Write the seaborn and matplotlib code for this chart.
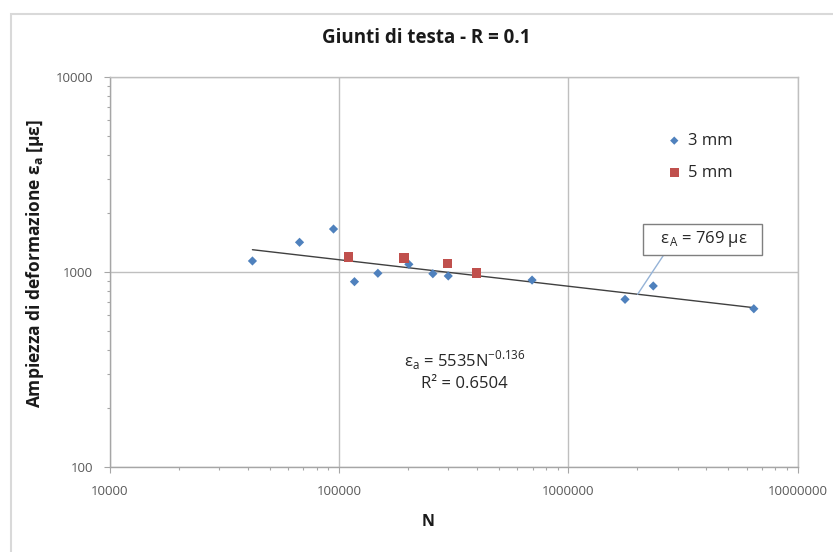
import numpy as np
import pandas as pd
import matplotlib
matplotlib.use("Agg")
import matplotlib.pyplot as plt
import matplotlib.patches as mpatches
from matplotlib.ticker import LogLocator, FixedLocator, FixedFormatter, NullFormatter
import seaborn as sns

# ---------------- data ----------------
n_3mm = [42000, 67400, 94800, 117000, 148000, 202000, 257000, 300000,
         696000, 1770000, 2350000, 6450000]
eps_3mm = [1139, 1420, 1661, 892, 985, 1095, 980, 954, 909, 724, 848, 648]

n_5mm = [110000, 192000, 298000, 398000]
eps_5mm = [1194, 1180, 1108, 985]

series_labels = ["3 mm", "5 mm"]
fit_coef = 5535
fit_exp = -0.136
fit_r2 = 0.6504
eps_A = 769
x_ticks = [1e4, 1e5, 1e6, 1e7]
x_ticklabels = ["10000", "100000", "1000000", "10000000"]
y_ticks = [100, 1000, 10000]
y_ticklabels = ["100", "1000", "10000"]

title = "Giunti di testa - R = 0.1"
xlabel = "N"
ylabel = "Ampiezza di deformazione ε$_\\mathregular{a}$ [με]"

df = pd.DataFrame({
    "N": n_3mm + n_5mm,
    "eps": eps_3mm + eps_5mm,
    "serie": [series_labels[0]] * len(n_3mm) + [series_labels[1]] * len(n_5mm),
})

# ---------------- style ----------------
sns.set_style("white")
FONT = ["Open Sans", "DejaVu Sans"]
plt.rcParams["font.family"] = FONT
plt.rcParams["mathtext.fontset"] = "custom"
plt.rcParams["mathtext.rm"] = "Open Sans"

W, H = 833, 552
fig = plt.figure(figsize=(W / 100, H / 100), dpi=100)
fig.patch.set_facecolor("white")

# outer chart border (cropped at right/bottom)
top_f = 1 - 14 / H
fig.patches.append(mpatches.Rectangle((11 / W, -0.2), 1.5, top_f + 0.2,
                                      transform=fig.transFigure, fill=False,
                                      ec="#D9D9D9", lw=1.5, zorder=-1))

L, R, T, B = 109.5, 797.5, 77, 467
ax = fig.add_axes([L / W, 1 - B / H, (R - L) / W, (B - T) / H])

ax.set_xscale("log")
ax.set_yscale("log")
ax.set_xlim(1e4, 1e7)
ax.set_ylim(100, 10000)

GRID = "#BFBFBF"
ax.grid(True, which="major", color=GRID, lw=1.0)
ax.set_axisbelow(True)
for sp in ax.spines.values():
    sp.set_color(GRID)
    sp.set_linewidth(1.0)
ax.spines["left"].set_color("#A6A6A6")
ax.spines["bottom"].set_color("#A6A6A6")

# trend line
n_all = np.array(df["N"], dtype=float)
n_fit = np.geomspace(n_all.min(), n_all.max(), 50)
sns.lineplot(x=n_fit, y=fit_coef * n_fit ** fit_exp, ax=ax, color="#404040",
             lw=1.0, zorder=2, legend=False)

palette = {series_labels[0]: "#4F81BD", series_labels[1]: "#C0504D"}
markers = {series_labels[0]: "D", series_labels[1]: "s"}
sizes_map = {series_labels[0]: 22, series_labels[1]: 48}
for lab in series_labels:
    sub = df[df["serie"] == lab]
    sns.scatterplot(data=sub, x="N", y="eps", ax=ax, color=palette[lab],
                    marker=markers[lab], s=sizes_map[lab], edgecolor="none",
                    label=lab, zorder=3)

# ticks
ax.xaxis.set_major_locator(FixedLocator(x_ticks))
ax.xaxis.set_major_formatter(FixedFormatter(x_ticklabels))
ax.yaxis.set_major_locator(FixedLocator(y_ticks))
ax.yaxis.set_major_formatter(FixedFormatter(y_ticklabels))
ax.xaxis.set_minor_locator(LogLocator(base=10, subs=np.arange(2, 10)))
ax.yaxis.set_minor_locator(LogLocator(base=10, subs=np.arange(2, 10)))
ax.xaxis.set_minor_formatter(NullFormatter())
ax.yaxis.set_minor_formatter(NullFormatter())
ax.tick_params(which="major", direction="out", length=4, width=0.8,
               color="#A6A6A6", labelcolor="#595959", labelsize=9.5)
ax.tick_params(which="minor", direction="out", length=2.5, width=0.8,
               color="#A6A6A6")
ax.tick_params(axis="x", which="major", pad=9, bottom=True)
ax.tick_params(axis="y", which="major", pad=8, left=True)
ax.tick_params(axis="x", which="minor", bottom=True)
ax.tick_params(axis="y", which="minor", left=True)
ax.set_xlabel("")
ax.set_ylabel("")

# legend
ax.legend(loc="upper left", bbox_to_anchor=(668 / W, 1 - 133 / H),
          bbox_transform=fig.transFigure, frameon=False, borderpad=0,
          borderaxespad=0, handlelength=0.75, handletextpad=0.45,
          labelspacing=0.95, fontsize=12, markerscale=0.9)

# equation
ax.text(354000, 354, "ε$_\\mathregular{a}$ = 5535N$^\\mathregular{" + f"{fit_exp}" + "}$",
        ha="center", va="center", fontsize=12, color="#262626")
ax.text(354000, 268, f"R² = {fit_r2}", ha="center", va="center",
        fontsize=12, color="#262626")

# eps_A annotation
n_A = (fit_coef / eps_A) ** (1 / -fit_exp)
ax.annotate("   ε$_\\mathregular{A}$ = " + f"{eps_A}" + " με   ", xy=(n_A, eps_A),
            xytext=(3.85e6, 1476), ha="center", va="center", fontsize=12,
            color="#262626",
            bbox=dict(boxstyle="square,pad=0.33", fc="white", ec="#7F7F7F", lw=1),
            arrowprops=dict(arrowstyle="-", color="#95B3D7", lw=1,
                            shrinkA=0, shrinkB=0, relpos=(0.18, 0.0)),
            zorder=4)

# titles
fig.text(426.5 / W, 1 - 38 / H, title, ha="center", va="center",
         fontsize=13.5, weight="bold", color="#1A1A1A")
fig.text(428 / W, 1 - 522 / H, xlabel, ha="center", va="center",
         fontsize=11.5, weight="bold", color="#1A1A1A")
fig.text(35 / W, 1 - 264 / H, ylabel, ha="center", va="center", rotation=90,
         fontsize=12.5, weight="bold", color="#1A1A1A")

fig.savefig("out.png", dpi=100, facecolor="white")
